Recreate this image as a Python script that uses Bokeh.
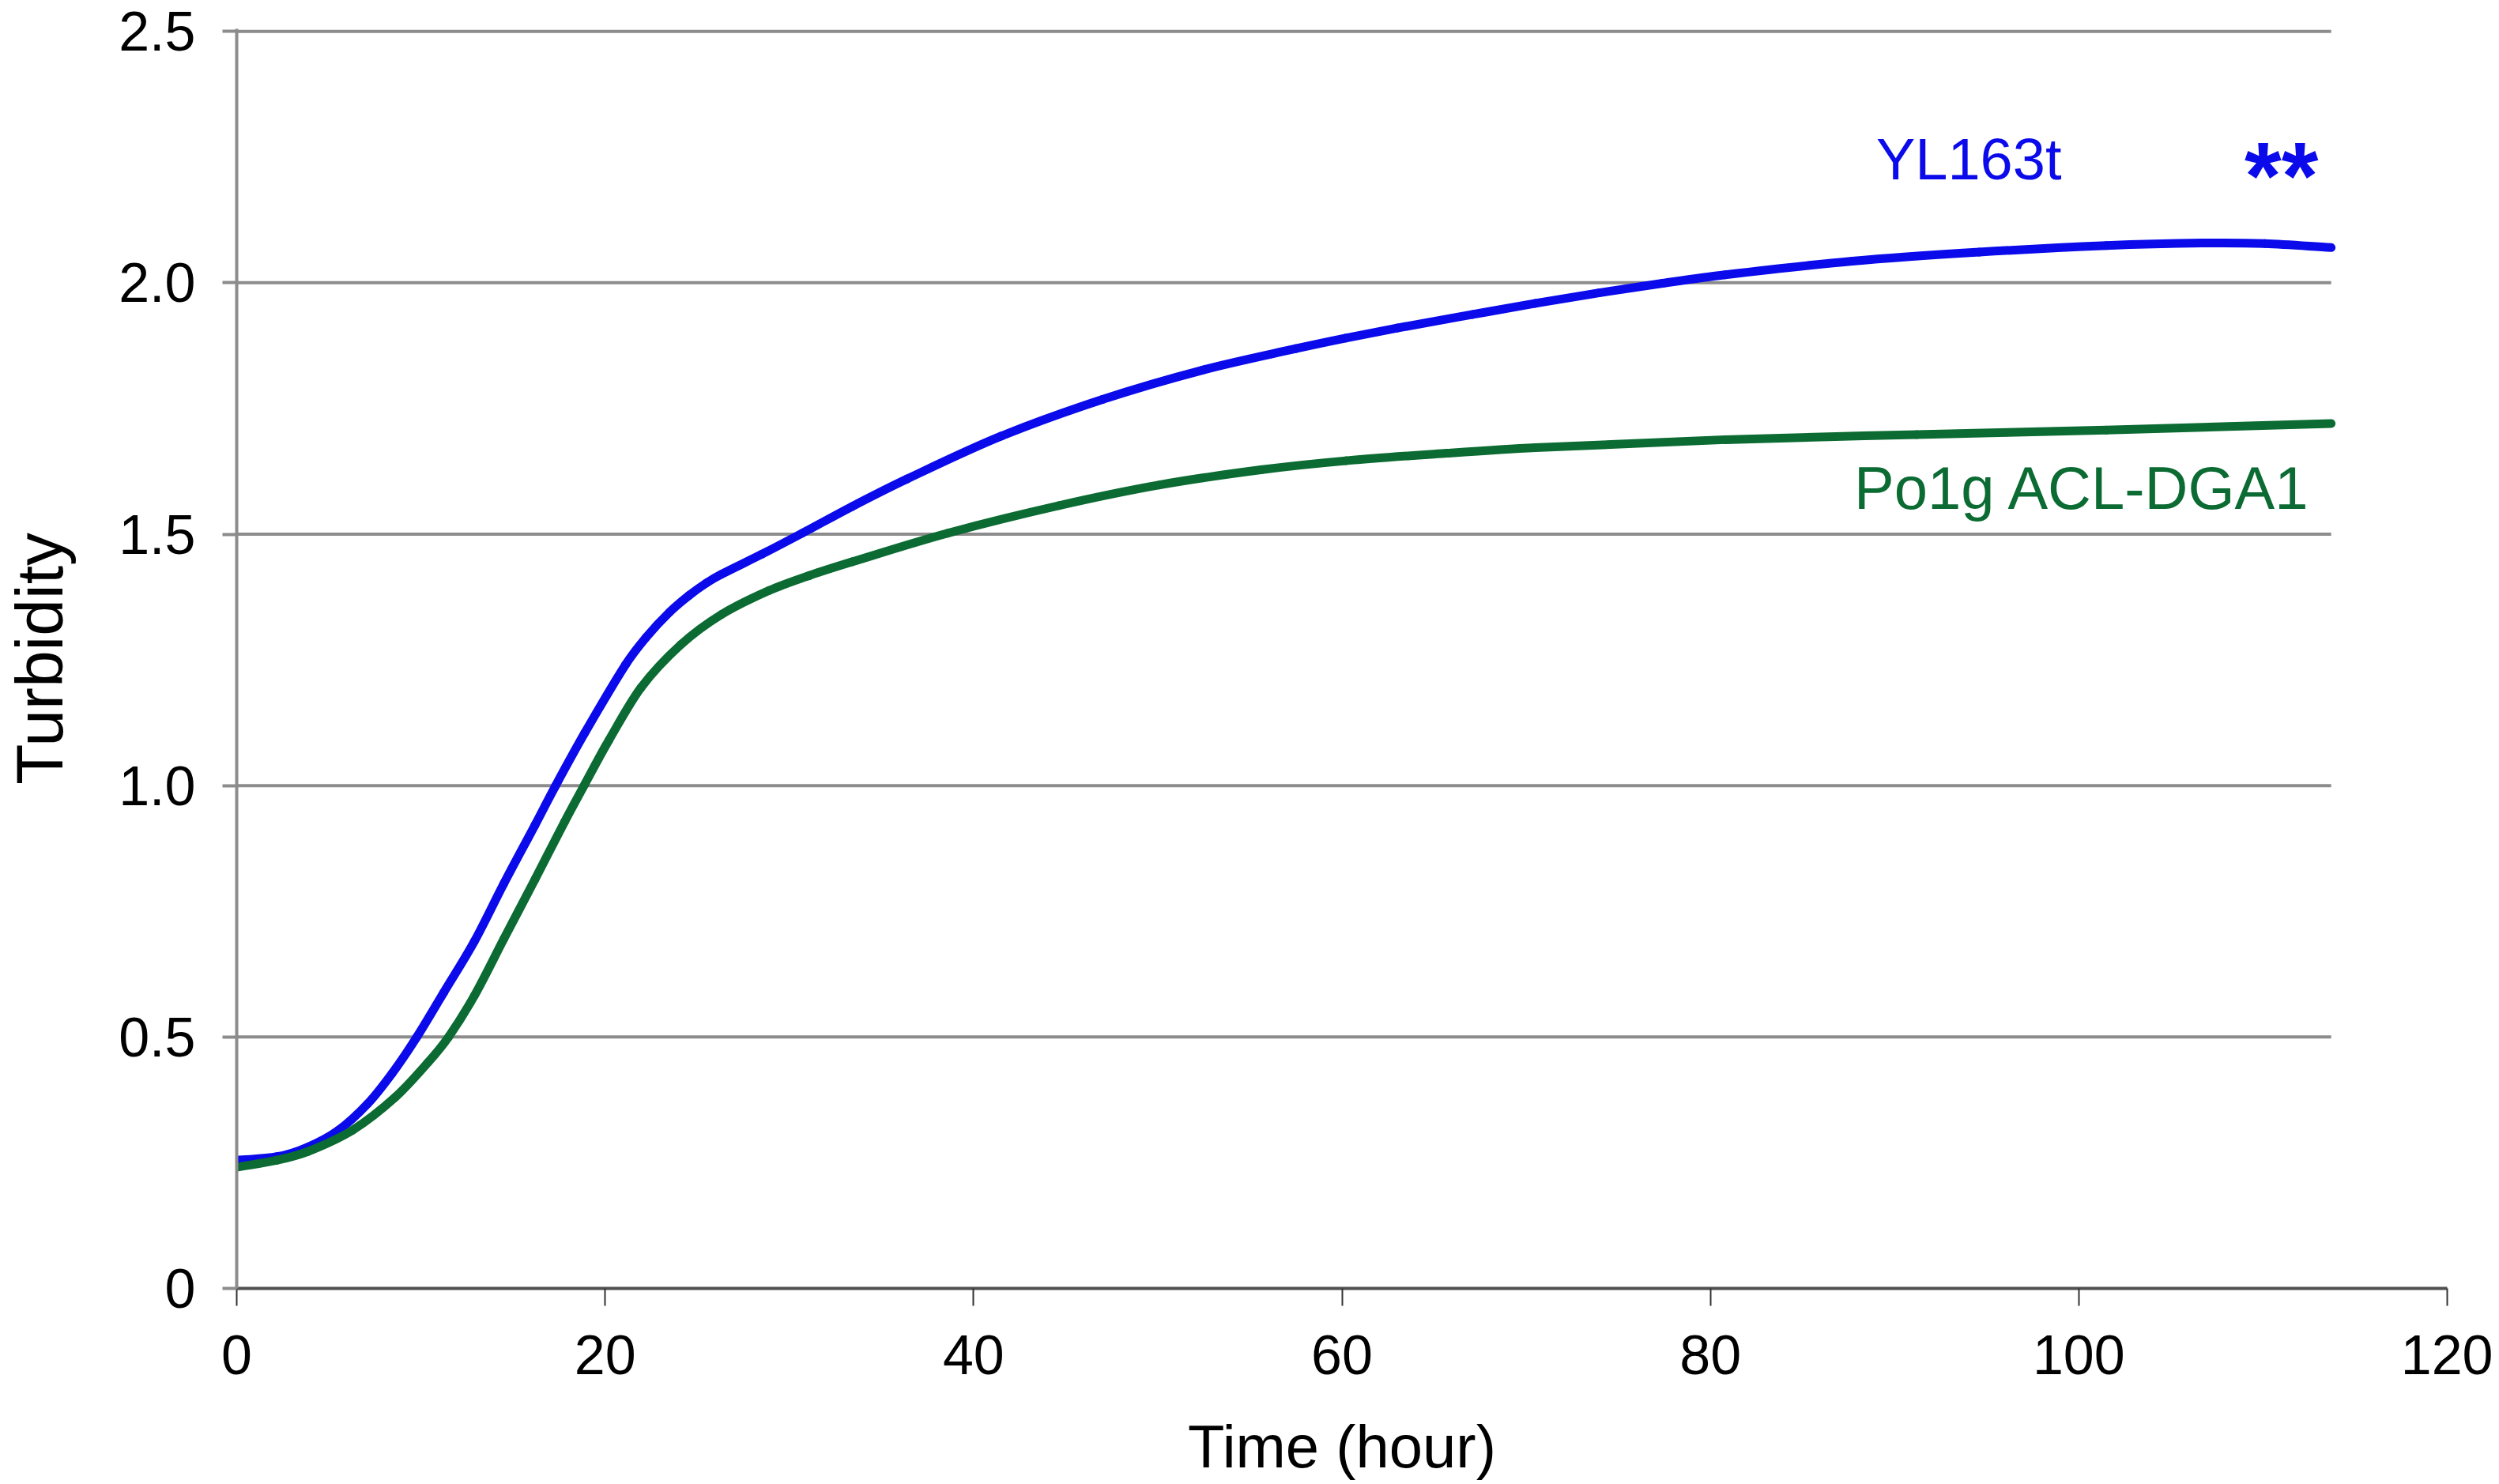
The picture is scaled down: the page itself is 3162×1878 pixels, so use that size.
from bokeh.plotting import figure
from bokeh.models import Range1d, FixedTicker, ColumnDataSource
from bokeh.core.properties import value
from bokeh.embed import file_html
from bokeh.resources import INLINE

# ---------------- data ----------------
series_names = ["YL163t", "Po1g ACL-DGA1"]
significance = "**"

time_yl = [0, 2.2, 3.85, 5.5, 7.1, 8.44, 9.76, 11.23, 12.9, 14.5, 16.2, 17.3,
           18.9, 21.1, 22.23, 23.5, 24.55, 25.5, 26.3, 28.5, 30.7, 33.4, 36.4,
           41.5, 47.0, 52.4, 57.5, 60.2, 63.0, 67.1, 70.5, 73.95, 77.4, 80.8,
           87.7, 94.6, 101.5, 106.7, 110.1, 113.7]
turb_yl = [0.255, 0.262, 0.281, 0.314, 0.367, 0.428, 0.499, 0.588, 0.690, 0.805,
           0.922, 0.999, 1.105, 1.240, 1.295, 1.345, 1.378, 1.403, 1.420, 1.460,
           1.502, 1.555, 1.610, 1.695, 1.768, 1.826, 1.869, 1.890, 1.910, 1.937,
           1.959, 1.980, 1.999, 2.016, 2.043, 2.061, 2.074, 2.079, 2.078, 2.070]

time_po = [0, 2.2, 3.85, 6.3, 8.6, 10.4, 11.5, 12.9, 14.5, 16.2, 17.8, 18.9,
           20.2, 21.95, 24.1, 26.3, 28.9, 31.1, 33.4, 38.6, 44.65, 50.1,
           55.6, 60.2, 65.7, 70.5, 80.8, 91.2, 101.5, 113.7]
turb_po = [0.241, 0.255, 0.272, 0.315, 0.380, 0.450, 0.500, 0.582, 0.695, 0.814,
           0.928, 1.003, 1.090, 1.195, 1.280, 1.340, 1.388, 1.418, 1.445,
           1.502, 1.557, 1.598, 1.628, 1.646, 1.661, 1.672, 1.688, 1.698, 1.707,
           1.720]

x_ticks = [0, 20, 40, 60, 80, 100, 120]
y_ticks = [0, 0.5, 1.0, 1.5, 2.0, 2.5]
y_tick_labels = ["0", "0.5", "1.0", "1.5", "2.0", "2.5"]

# ---------------- styling ----------------
FONT = "Liberation Sans"
BLUE = "#0A0AEB"
GREEN = "#0B6B32"
GRID = "#8C8C8C"


def smooth_segments(xs, ys):
    """Cubic Hermite (Excel-like 'smoothed line') drawn as Bezier segments
    passing through every data point."""
    n = len(xs)
    slopes = []
    for i in range(n):
        a = max(i - 1, 0)
        b = min(i + 1, n - 1)
        slopes.append((ys[b] - ys[a]) / (xs[b] - xs[a]))
    d = dict(x0=[], y0=[], x1=[], y1=[], cx0=[], cy0=[], cx1=[], cy1=[])
    for i in range(n - 1):
        h = xs[i + 1] - xs[i]
        d["x0"].append(xs[i]); d["y0"].append(ys[i])
        d["x1"].append(xs[i + 1]); d["y1"].append(ys[i + 1])
        d["cx0"].append(xs[i] + h / 3.0); d["cy0"].append(ys[i] + slopes[i] * h / 3.0)
        d["cx1"].append(xs[i + 1] - h / 3.0); d["cy1"].append(ys[i + 1] - slopes[i + 1] * h / 3.0)
    return ColumnDataSource(d)


p = figure(width=3154, height=1876, output_backend="svg", toolbar_location=None,
           x_range=Range1d(0, 120), y_range=Range1d(0, 2.505),
           min_border_left=296, min_border_right=58, min_border_top=36,
           min_border_bottom=246)
p.outline_line_color = None
p.background_fill_color = "white"
p.border_fill_color = "white"
p.xgrid.visible = False
p.ygrid.visible = False

# horizontal gridlines spanning the data extent
t_end = max(max(time_yl), max(time_po))
grid_src = ColumnDataSource(dict(x0=[0] * (len(y_ticks) - 1),
                                 x1=[t_end] * (len(y_ticks) - 1),
                                 y=y_ticks[1:]))
p.segment(x0="x0", y0="y", x1="x1", y1="y", source=grid_src,
          line_color=GRID, line_width=4)

# curves (smoothed through the read points)
p.bezier(x0="x0", y0="y0", x1="x1", y1="y1", cx0="cx0", cy0="cy0", cx1="cx1", cy1="cy1",
         source=smooth_segments(time_yl, turb_yl), line_color=BLUE, line_width=11,
         line_cap="round")
p.bezier(x0="x0", y0="y0", x1="x1", y1="y1", cx0="cx0", cy0="cy0", cx1="cx1", cy1="cy1",
         source=smooth_segments(time_po, turb_po), line_color=GREEN, line_width=11,
         line_cap="round")

# series labels
p.text(x=[89.0], y=[2.246], text=[series_names[0]], text_color=BLUE,
       text_font=value(FONT), text_font_size="74px", text_align="left",
       text_baseline="alphabetic")
p.text(x=[87.8], y=[1.592], text=[series_names[1]], text_color=GREEN,
       text_font=value(FONT), text_font_size="76px", text_align="left",
       text_baseline="alphabetic")
p.text(x=[109.0], y=[2.214], text=[significance], text_color=BLUE,
       text_font=value(FONT), text_font_size="120px", text_font_style="bold",
       text_align="left", text_baseline="alphabetic")

# x axis
xa = p.xaxis[0]
xa.ticker = FixedTicker(ticks=x_ticks)
xa.axis_label = "Time (hour)"
xa.axis_label_text_font = FONT
xa.axis_label_text_font_size = "76px"
xa.axis_label_text_font_style = "normal"
xa.axis_label_text_color = "black"
xa.axis_label_standoff = 46
xa.major_label_text_font = FONT
xa.major_label_text_font_size = "70px"
xa.major_label_text_color = "black"
xa.major_label_standoff = 37
xa.axis_line_color = "#505050"
xa.axis_line_width = 4
xa.major_tick_line_color = "#333333"
xa.major_tick_line_width = 2
xa.major_tick_out = 22
xa.major_tick_in = 0
xa.minor_tick_line_color = None

# y axis
ya = p.yaxis[0]
ya.ticker = FixedTicker(ticks=y_ticks)
ya.major_label_overrides = {t: lab for t, lab in zip(y_ticks, y_tick_labels)}
ya.axis_label = "Turbidity"
ya.axis_label_text_font = FONT
ya.axis_label_text_font_size = "84px"
ya.axis_label_text_font_style = "normal"
ya.axis_label_text_color = "black"
ya.axis_label_standoff = 50
ya.major_label_text_font = FONT
ya.major_label_text_font_size = "70px"
ya.major_label_text_color = "black"
ya.major_label_standoff = 34
ya.axis_line_color = GRID
ya.axis_line_width = 4
ya.major_tick_line_color = GRID
ya.major_tick_line_width = 4
ya.major_tick_out = 18
ya.major_tick_in = 0
ya.minor_tick_line_color = None

open("out.html", "w").write(file_html(p, INLINE))
